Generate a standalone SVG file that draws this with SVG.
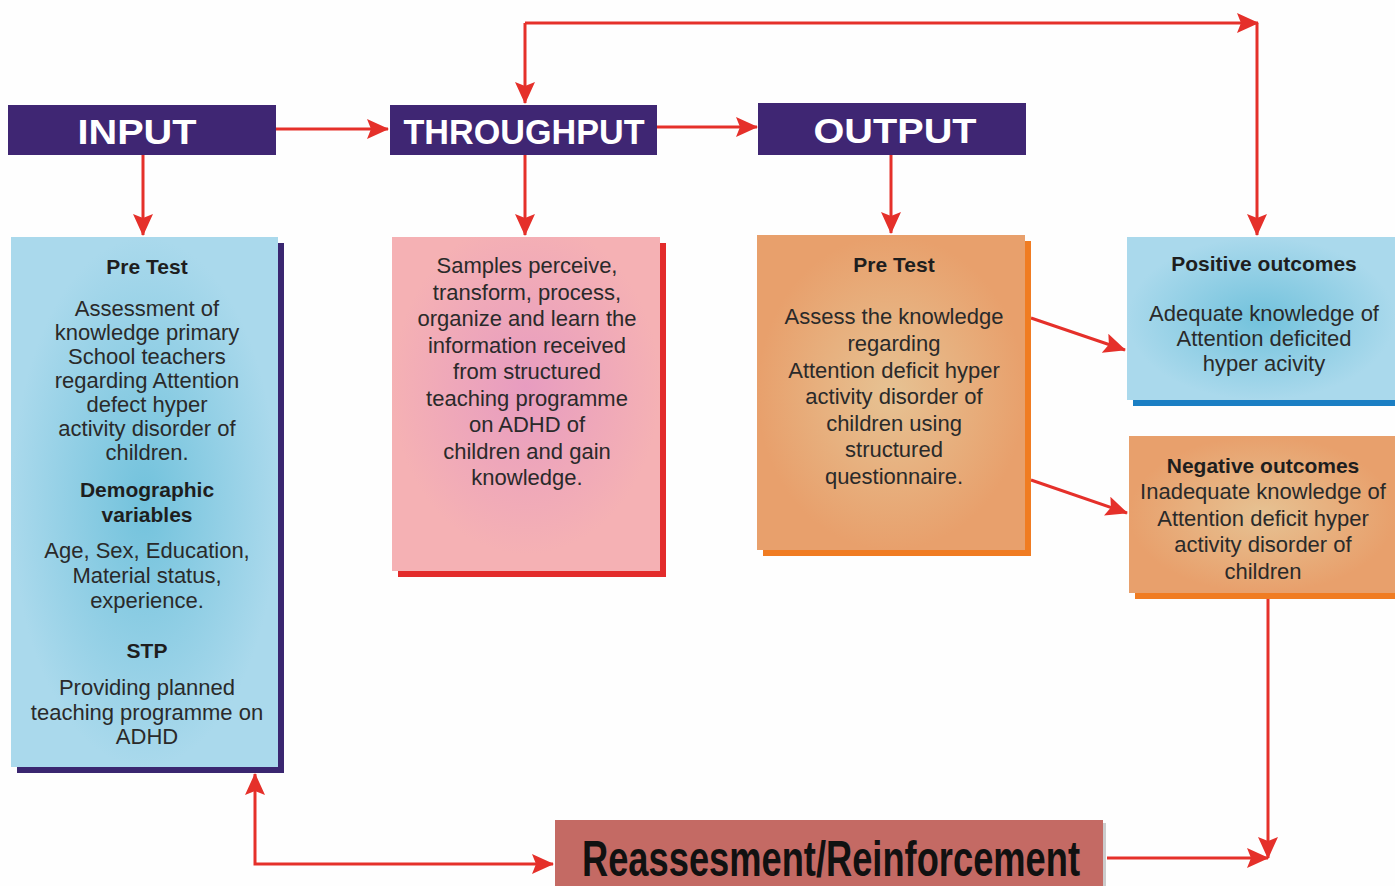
<svg xmlns="http://www.w3.org/2000/svg" width="1395" height="886" viewBox="0 0 1395 886">
<style>
.hdr{fill:#3f2673;}
.ht{font-family:"Liberation Sans",Arial,sans-serif;font-weight:bold;font-size:35px;fill:#fff;text-anchor:middle;}
.t{font-family:"Liberation Sans",Arial,sans-serif;font-size:22px;fill:#2a2a2a;text-anchor:middle;}
.b{font-family:"Liberation Sans",Arial,sans-serif;font-size:21px;font-weight:bold;fill:#1e1e1e;text-anchor:middle;}
.c{fill:none;stroke:#e5302a;stroke-width:3;}
</style>
<defs>
<marker id="ah" markerUnits="userSpaceOnUse" markerWidth="22" markerHeight="20" refX="21" refY="10" orient="auto-start-reverse" viewBox="0 0 22 20">
<path d="M0,0 L22,10 L0,20 L4,10 z" fill="#e5302a"/>
</marker>
<radialGradient id="gBlue" cx="0.5" cy="0.5" r="0.5">
<stop offset="0" stop-color="#72c2dc"/>
<stop offset="1" stop-color="#aad9ec"/>
</radialGradient>
<radialGradient id="gPink" cx="0.5" cy="0.45" r="0.5">
<stop offset="0" stop-color="#e79cc0"/>
<stop offset="1" stop-color="#f5b1b4"/>
</radialGradient>
<radialGradient id="gOrange" cx="0.5" cy="0.5" r="0.5">
<stop offset="0" stop-color="#e6c293"/>
<stop offset="1" stop-color="#e8a06c"/>
</radialGradient>
</defs>
<rect width="1395" height="886" fill="#fefefe"/>

<g id="connectors">
<path class="c" d="M276,129 L388,129" marker-end="url(#ah)"/>
<path class="c" d="M657,127 L757,127" marker-end="url(#ah)"/>
<path class="c" d="M143,155 L143,235" marker-end="url(#ah)"/>
<path class="c" d="M525,155 L525,235" marker-end="url(#ah)"/>
<path class="c" d="M891,155 L891,233" marker-end="url(#ah)"/>
<path class="c" d="M525,23 L525,103" marker-end="url(#ah)"/>
<path class="c" d="M525,23 L1258,23" marker-end="url(#ah)"/>
<path class="c" d="M1257,23 L1257,235" marker-end="url(#ah)"/>
<path class="c" d="M1031,318 L1125,350" marker-end="url(#ah)"/>
<path class="c" d="M1031,480 L1127,513" marker-end="url(#ah)"/>
<path class="c" d="M255,774 L255,864 L553,864" marker-start="url(#ah)" marker-end="url(#ah)"/>
<path class="c" d="M1107,858 L1268,858" marker-end="url(#ah)"/>
<path class="c" d="M1268,599 L1268,858" marker-end="url(#ah)"/>
</g>

<g id="input">
<rect class="hdr" x="8" y="105" width="268" height="50"/>
<text class="ht" x="137" y="144" textLength="119" lengthAdjust="spacingAndGlyphs">INPUT</text>
</g>
<g id="throughput">
<rect class="hdr" x="390" y="105" width="267" height="50"/>
<text class="ht" x="524" y="144" textLength="241" lengthAdjust="spacingAndGlyphs">THROUGHPUT</text>
</g>
<g id="output">
<rect class="hdr" x="758" y="103" width="268" height="52"/>
<text class="ht" x="895" y="143" textLength="163" lengthAdjust="spacingAndGlyphs">OUTPUT</text>
</g>

<g id="input-box">
<rect x="17" y="243" width="267" height="530" fill="#3a2670"/>
<rect x="11" y="237" width="267" height="530" fill="url(#gBlue)"/>
<text class="b" x="147" y="274">Pre Test</text>
<text class="t" x="147" y="316">Assessment of</text>
<text class="t" x="147" y="340">knowledge primary</text>
<text class="t" x="147" y="364">School teachers</text>
<text class="t" x="147" y="388">regarding Attention</text>
<text class="t" x="147" y="412">defect hyper</text>
<text class="t" x="147" y="436">activity disorder of</text>
<text class="t" x="147" y="460">children.</text>
<text class="b" x="147" y="497">Demographic</text>
<text class="b" x="147" y="522">variables</text>
<text class="t" x="147" y="558">Age, Sex, Education,</text>
<text class="t" x="147" y="583">Material status,</text>
<text class="t" x="147" y="608">experience.</text>
<text class="b" x="147" y="658">STP</text>
<text class="t" x="147" y="695">Providing planned</text>
<text class="t" x="147" y="720">teaching programme on</text>
<text class="t" x="147" y="744">ADHD</text>
</g>

<g id="throughput-box">
<rect x="398" y="243" width="268" height="334" fill="#e32b2b"/>
<rect x="392" y="237" width="268" height="334" fill="url(#gPink)"/>
<text class="t" x="527" y="273">Samples perceive,</text>
<text class="t" x="527" y="300">transform, process,</text>
<text class="t" x="527" y="326">organize and learn the</text>
<text class="t" x="527" y="353">information received</text>
<text class="t" x="527" y="379">from structured</text>
<text class="t" x="527" y="406">teaching programme</text>
<text class="t" x="527" y="432">on ADHD of</text>
<text class="t" x="527" y="459">children and gain</text>
<text class="t" x="527" y="485">knowledge.</text>
</g>

<g id="output-box">
<rect x="763" y="241" width="268" height="315" fill="#f07c22"/>
<rect x="757" y="235" width="268" height="315" fill="url(#gOrange)"/>
<text class="b" x="894" y="272">Pre Test</text>
<text class="t" x="894" y="324">Assess the knowledge</text>
<text class="t" x="894" y="351">regarding</text>
<text class="t" x="894" y="378">Attention deficit hyper</text>
<text class="t" x="894" y="404">activity disorder of</text>
<text class="t" x="894" y="431">children using</text>
<text class="t" x="894" y="457">structured</text>
<text class="t" x="894" y="484">questionnaire.</text>
</g>

<g id="positive">
<rect x="1133" y="243" width="268" height="163" fill="#1b7fc4"/>
<rect x="1127" y="237" width="268" height="163" fill="url(#gBlue)"/>
<text class="b" x="1264" y="271">Positive outcomes</text>
<text class="t" x="1264" y="321">Adequate knowledge of</text>
<text class="t" x="1264" y="346">Attention deficited</text>
<text class="t" x="1264" y="371">hyper acivity</text>
</g>

<g id="negative">
<rect x="1135" y="442" width="266" height="157" fill="#f07c22"/>
<rect x="1129" y="436" width="266" height="157" fill="url(#gOrange)"/>
<text class="b" x="1263" y="473">Negative outcomes</text>
<text class="t" x="1263" y="499">Inadequate knowledge of</text>
<text class="t" x="1263" y="526">Attention deficit hyper</text>
<text class="t" x="1263" y="552">activity disorder of</text>
<text class="t" x="1263" y="579">children</text>
</g>

<g id="reassessment">
<rect x="558" y="823" width="548" height="66" fill="#9a9a9a" opacity="0.5"/>
<rect x="555" y="820" width="548" height="66" fill="#c46a64"/>
<text x="831" y="876" font-family="'Liberation Sans',Arial,sans-serif" font-weight="bold" font-size="50" fill="#111" text-anchor="middle" textLength="498" lengthAdjust="spacingAndGlyphs">Reassesment/Reinforcement</text>
</g>
</svg>
